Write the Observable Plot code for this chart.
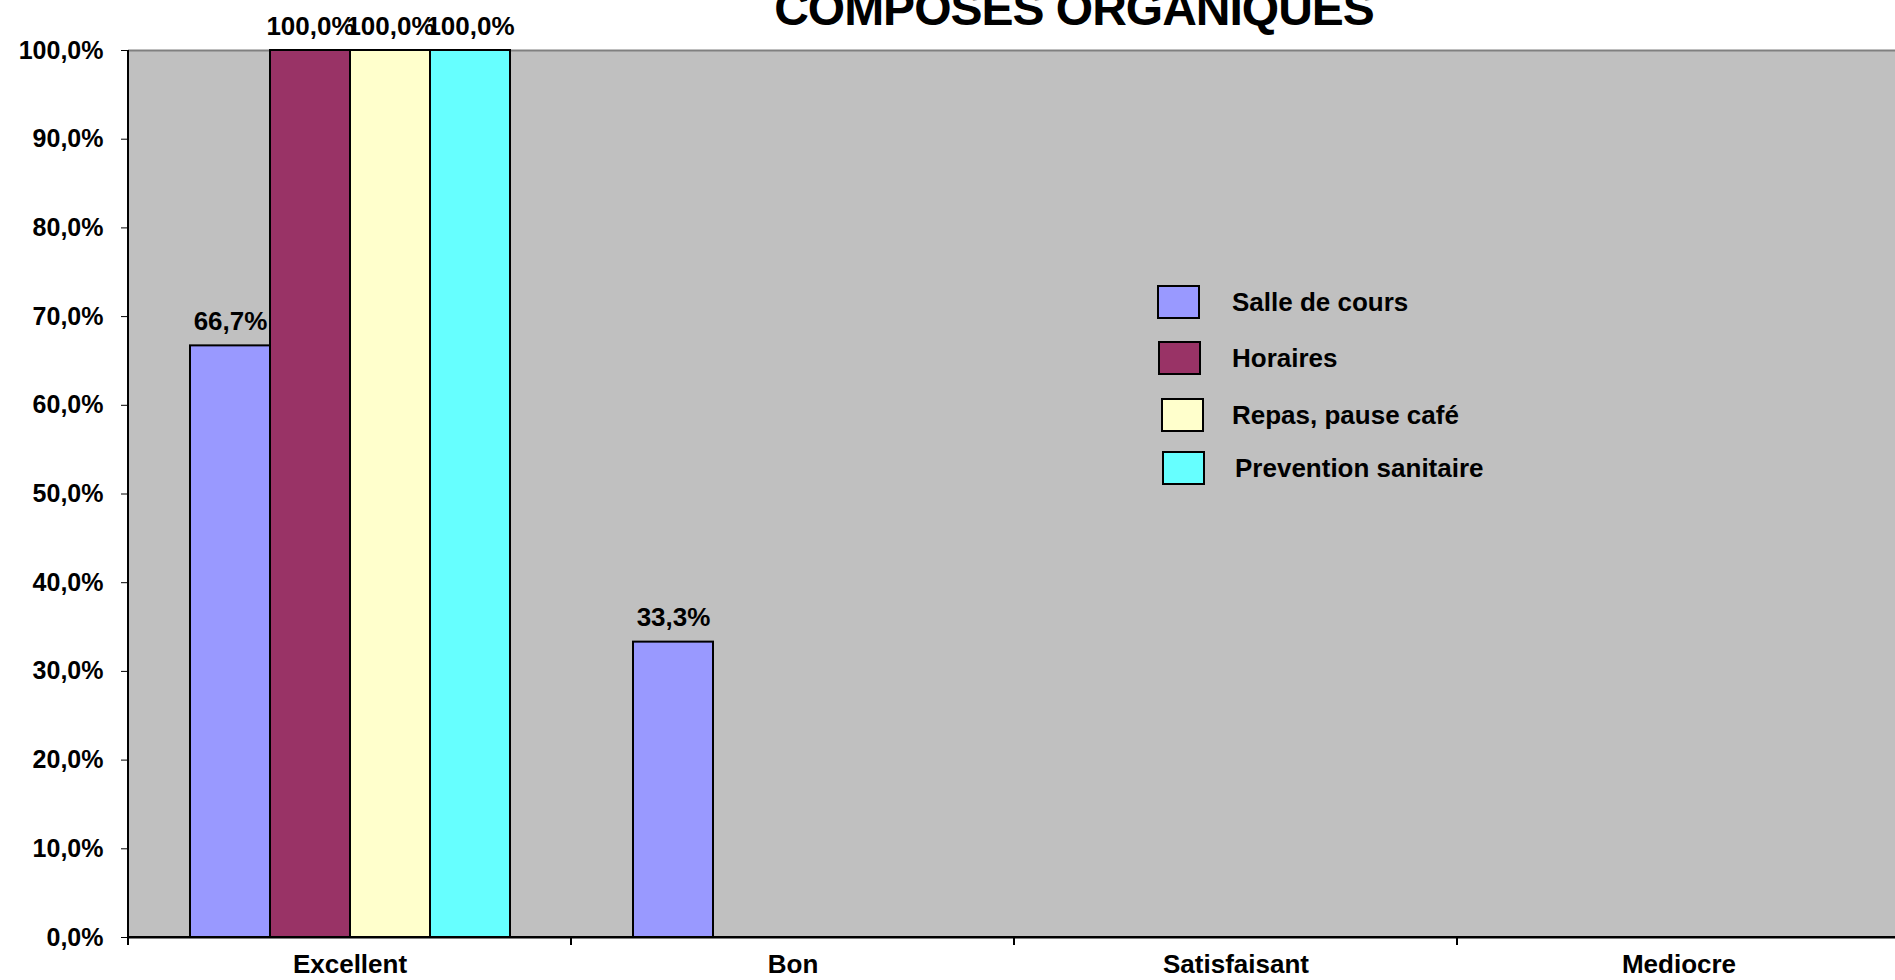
<!DOCTYPE html>
<html>
<head>
<meta charset="utf-8">
<script src="https://cdn.jsdelivr.net/npm/d3@7"></script>
<script src="https://cdn.jsdelivr.net/npm/@observablehq/plot@0.6"></script>
<style>
  html, body { margin: 0; padding: 0; overflow: hidden; background: #fff; width: 1895px; height: 980px; }
  #wrap { position: relative; width: 1895px; height: 980px; overflow: hidden; }
  #chart { position: absolute; left: 0; top: 0; }
  #title { position: absolute; left: 1074px; top: -15px; transform: translateX(-50%);
           font: bold 48px "Liberation Sans", Arial, sans-serif; line-height: 48px;
           letter-spacing: -1px; white-space: nowrap; color: #000; }
  .leg-item { position: absolute; display: flex; align-items: center; height: 34px; }
  .leg-box { box-sizing: border-box; width: 43px; height: 34px; border: 2px solid #000; }
  .leg-label { position: absolute; font: bold 26px "Liberation Sans", Arial, sans-serif; white-space: nowrap; color: #000; }
</style>
</head>
<body>
<div id="wrap">
  <div id="chart"></div>
  <div id="title">COMPOSES ORGANIQUES</div>
  <div id="legend"></div>
</div>
<script>
// ---- data ----
const categories = ["Excellent", "Bon", "Satisfaisant", "Mediocre"];
const series = ["Salle de cours", "Horaires", "Repas, pause café", "Prevention sanitaire"];
const salleDeCours = [66.7, 33.3, 0, 0];
const horaires = [100, 0, 0, 0];
const repasPauseCafe = [100, 0, 0, 0];
const preventionSanitaire = [100, 0, 0, 0];
const seriesColors = ["#9999ff", "#993366", "#ffffcc", "#66ffff"];
const yTicks = [0, 10, 20, 30, 40, 50, 60, 70, 80, 90, 100];

const values = [salleDeCours, horaires, repasPauseCafe, preventionSanitaire];
const fmt = v => v.toFixed(1).replace(".", ",") + "%";

const rows = categories.flatMap((c, i) =>
  series.map((s, j) => ({category: c, series: s, value: values[j][i]})));
const shown = rows.filter(d => d.value > 0);
const catRows = categories.map(c => ({category: c}));

const chart = Plot.plot({
  width: 1895,
  height: 980,
  marginLeft: 126,
  marginRight: -6,
  marginTop: 50,
  marginBottom: 43,
  style: {fontFamily: '"Liberation Sans", Arial, sans-serif', background: "transparent", color: "#000", overflow: "hidden"},
  fx: {domain: categories, padding: 0, label: null},
  x: {domain: series, paddingInner: 0, paddingOuter: 0.738, axis: null, label: null},
  y: {domain: [0, 100], label: null},
  color: {domain: series, range: seriesColors},
  marks: [
    Plot.ruleY(catRows, {fx: "category", y: () => 0, stroke: "none"}),
    Plot.frame({fill: "#c0c0c0", stroke: "#c0c0c0"}),
    Plot.ruleY(catRows, {fx: "category", y: () => 100, stroke: "#808080", strokeWidth: 2}),
    Plot.ruleY(catRows, {fx: "category", y: () => 0, stroke: "#000", strokeWidth: 2}),
    Plot.barY(shown, {fx: "category", x: "series", y: "value", fill: "series", stroke: "#000", strokeWidth: 2}),
    Plot.text(shown, {fx: "category", x: "series", y: "value", text: d => fmt(d.value),
      lineAnchor: "bottom", dy: -16, fontSize: 26, fontWeight: "bold", fill: "#000"}),
    Plot.axisY({ticks: yTicks, tickFormat: fmt, tickSize: 7, tickPadding: 18, fontSize: 25, fontWeight: "bold", label: null}),
    Plot.axisFx({anchor: "bottom", tickSize: 0, tickPadding: 17, fontSize: 26, fontWeight: "bold", label: null})
  ]
});
document.getElementById("chart").appendChild(chart);

// axis lines and category boundary ticks, from the plot's own scales
try {
  const fx = chart.scale("fx");
  const y = chart.scale("y");
  const y0 = y.apply(0), y1 = y.apply(100);
  const starts = categories.map(c => fx.apply(c));
  const xEnd = starts[starts.length - 1] + fx.bandwidth;
  const svg = d3.select(chart);
  const g = svg.append("g").attr("stroke", "#000").attr("stroke-width", 2);
  g.append("line").attr("x1", starts[0]).attr("x2", starts[0]).attr("y1", y1).attr("y2", y0 + 1);
  g.append("line").attr("x1", starts[0]).attr("x2", xEnd).attr("y1", y0).attr("y2", y0);
  [...starts, xEnd].forEach(x => {
    g.append("line").attr("x1", x).attr("x2", x).attr("y1", y0).attr("y2", y0 + 8);
  });
} catch (e) { console.error(e); }

// legend (HTML overlay inside the plot area)
const legTops = [285, 341, 398, 451];
const legBoxLeft = [1157, 1158, 1161, 1162];
const legLabelLeft = [1232, 1232, 1232, 1235];
const legend = document.getElementById("legend");
series.forEach((s, i) => {
  const item = document.createElement("div");
  item.className = "leg-item";
  item.style.left = legBoxLeft[i] + "px";
  item.style.top = legTops[i] + "px";
  const box = document.createElement("div");
  box.className = "leg-box";
  box.style.background = seriesColors[i];
  const label = document.createElement("div");
  label.className = "leg-label";
  label.style.left = (legLabelLeft[i] - legBoxLeft[i]) + "px";
  label.textContent = s;
  item.appendChild(box);
  item.appendChild(label);
  legend.appendChild(item);
});
</script>
</body>
</html>
